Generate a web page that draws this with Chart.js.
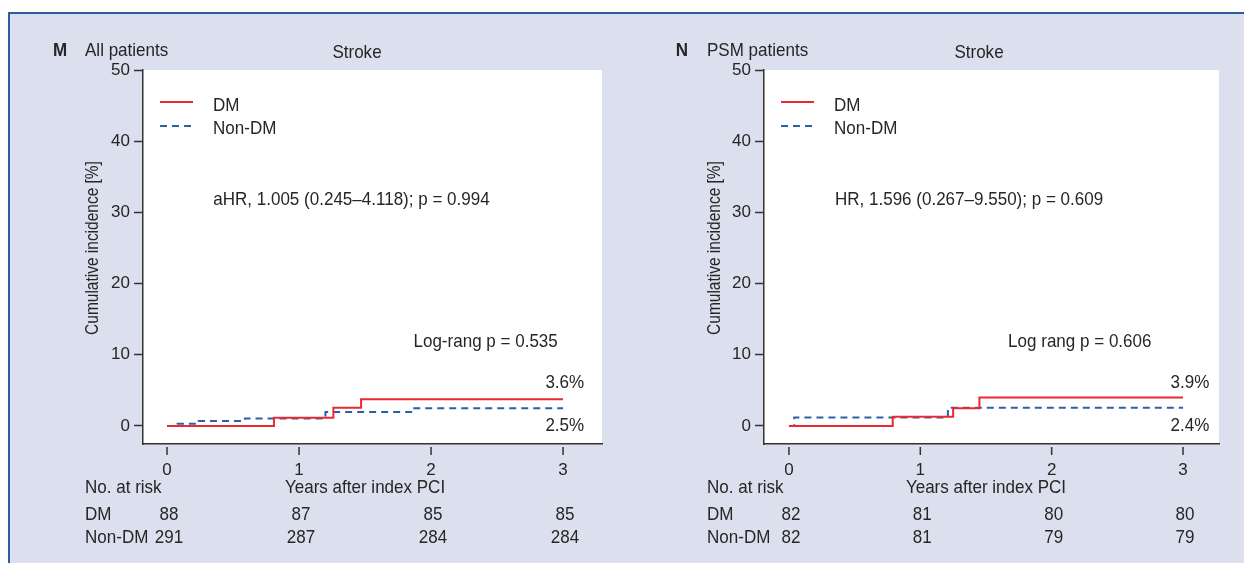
<!DOCTYPE html>
<html>
<head>
<meta charset="utf-8">
<script src="https://cdn.jsdelivr.net/npm/chart.js@4.4.1/dist/chart.umd.min.js"></script>
<style>
  body { margin: 0; width: 1244px; height: 563px; background: #fff; overflow: hidden; position: relative; }
  #frame { position: absolute; left: 8px; top: 12px; width: 1236px; height: 551px; background: #dcdfed;
           border-top: 2px solid #2e5d9c; border-left: 2px solid #2e5d9c; box-sizing: border-box; }
  canvas { position: absolute; top: 0; }
</style>
</head>
<body>
<div id="frame"></div>
<canvas id="chartM" width="622" height="563" style="left:0"></canvas>
<canvas id="chartN" width="622" height="563" style="left:622px"></canvas>
<script>
// shared axes
const years = [0, 1, 2, 3];
const yTicks = [0, 10, 20, 30, 40, 50];
const groups = ['DM', 'Non-DM'];

// Panel M - all patients
const mDmTime = [0, 0.81, 1.26, 1.47, 3];
const mDmInc = [0, 1.15, 2.55, 3.75, 3.75];
const mNonTime = [0, 0.08, 0.24, 0.59, 1.2, 1.86, 3];
const mNonInc = [0, 0.3, 0.7, 1.05, 1.95, 2.5, 2.5];
const mRiskDm = [88, 87, 85, 85];
const mRiskNon = [291, 287, 284, 284];

// Panel N - PSM patients
const nDmTime = [0, 0.79, 1.25, 1.45, 3];
const nDmInc = [0, 1.3, 2.5, 4.0, 4.0];
const nNonTime = [0, 0.04, 1.21, 3];
const nNonInc = [0, 1.2, 2.55, 2.55];
const nRiskDm = [82, 81, 80, 80];
const nRiskNon = [82, 81, 79, 79];

const FONT = '"Liberation Sans", Arimo, Arial, sans-serif';
const SQ = 0.92; // squeeze to look like a condensed face
const TXT = '#262626';
const RED = '#ea2a30';
const BLUE = '#2a61a6';

function pts(t, v) {
  return t.map((x, i) => ({ x: x, y: v[i] }));
}

function say(ctx, s, x, y, align, sq) {
  ctx.save();
  ctx.translate(x, y);
  ctx.scale(sq || SQ, 1);
  ctx.textAlign = align;
  ctx.fillText(s, 0, 0);
  ctx.restore();
}

// draws titles, legend, notes, risk table
const decor = {
  id: 'decor',
  beforeDraw(chart) {
    const { ctx, chartArea: a } = chart;
    ctx.save();
    ctx.fillStyle = '#fff';
    ctx.fillRect(a.left, a.top, a.right - a.left, a.bottom - a.top);
    ctx.restore();
  },
  afterDraw(chart, args, o) {
    const { ctx, chartArea: a } = chart;
    const sx = chart.scales.x, sy = chart.scales.y;
    ctx.save();
    ctx.fillStyle = TXT;
    ctx.textBaseline = 'middle';

    // header
    ctx.font = 'bold 18.5px ' + FONT;
    say(ctx, o.letter, 60, 51, 'center');
    ctx.font = '18.5px ' + FONT;
    say(ctx, o.subtitle, 85, 51, 'left');
    say(ctx, 'Stroke', 357, 53, 'center');

    // y title
    ctx.save();
    ctx.translate(93, (sy.getPixelForValue(0) + sy.getPixelForValue(50)) / 2);
    ctx.rotate(-Math.PI / 2);
    ctx.font = '18px ' + FONT;
    say(ctx, 'Cumulative incidence [%]', 0, 0, 'center', 0.86);
    ctx.restore();
    ctx.font = '18.5px ' + FONT;

    // detached x ticks
    ctx.strokeStyle = '#333';
    ctx.lineWidth = 1.5;
    years.forEach(v => {
      const x = sx.getPixelForValue(v);
      ctx.beginPath();
      ctx.moveTo(x, a.bottom + 3);
      ctx.lineTo(x, a.bottom + 11);
      ctx.stroke();
    });

    // legend
    const lx = a.left + 17;
    ctx.lineWidth = 1.8;
    ctx.strokeStyle = RED;
    ctx.beginPath(); ctx.moveTo(lx, 102); ctx.lineTo(lx + 33, 102); ctx.stroke();
    ctx.strokeStyle = BLUE;
    ctx.setLineDash([7, 5]);
    ctx.beginPath(); ctx.moveTo(lx, 126); ctx.lineTo(lx + 33, 126); ctx.stroke();
    ctx.setLineDash([]);
    say(ctx, groups[0], lx + 53, 106, 'left');
    say(ctx, groups[1], lx + 53, 129, 'left');

    // notes
    o.notes.forEach(n => {
      say(ctx, n.text, sx.getPixelForValue(n.x), sy.getPixelForValue(n.y), n.align);
    });

    // risk table
    say(ctx, 'No. at risk', 85, 488, 'left');
    say(ctx, groups[0], 85, 515, 'left');
    say(ctx, groups[1], 85, 538, 'left');
    say(ctx, 'Years after index PCI', sx.getPixelForValue(1.5), 488, 'center');
    years.forEach((v, i) => {
      const x = sx.getPixelForValue(v) + 2;
      say(ctx, String(o.riskDm[i]), x, 515, 'center');
      say(ctx, String(o.riskNon[i]), x, 538, 'center');
    });
    ctx.restore();
  }
};

function makeChart(id, dm, non, opts) {
  return new Chart(document.getElementById(id), {
    type: 'line',
    data: {
      datasets: [{
        label: groups[0],
        data: dm,
        borderColor: RED,
        borderWidth: 2,
        pointRadius: 0,
        stepped: true,
        fill: false
      }, {
        label: groups[1],
        data: non,
        borderColor: BLUE,
        borderWidth: 2,
        borderDash: [7, 5],
        pointRadius: 0,
        stepped: true,
        fill: false
      }]
    },
    options: {
      responsive: false,
      animation: false,
      layout: { padding: { top: 70, right: opts.padRight, left: 0, bottom: 0 } },
      plugins: {
        legend: { display: false },
        tooltip: { enabled: false },
        decor: opts
      },
      scales: {
        x: {
          type: 'linear',
          min: opts.xMin,
          max: opts.xMax,
          afterBuildTicks: s => { s.ticks = years.map(v => ({ value: v })); },
          afterFit: s => { s.height = 119; },
          grid: { drawOnChartArea: false, tickLength: 10, tickColor: 'transparent' },
          border: { color: '#333', width: 1.5 },
          ticks: { color: TXT, font: { family: FONT, size: 17 }, padding: 6, maxRotation: 0, autoSkip: false }
        },
        y: {
          min: -2.53,
          max: 50,
          afterBuildTicks: s => { s.ticks = yTicks.map(v => ({ value: v })); },
          afterFit: s => { s.width = opts.yWidth; },
          grid: { drawOnChartArea: false, tickLength: 9, tickColor: '#333', tickWidth: 1.5 },
          border: { color: '#333', width: 1.5 },
          ticks: { color: TXT, font: { family: FONT, size: 17 }, padding: 4 }
        }
      }
    },
    plugins: [decor]
  });
}

makeChart('chartM', pts(mDmTime, mDmInc), pts(mNonTime, mNonInc), {
  letter: 'M',
  subtitle: 'All patients',
  riskDm: mRiskDm,
  riskNon: mRiskNon,
  padRight: 20,
  yWidth: 143,
  xMin: -0.182,
  xMax: 3.295,
  notes: [
    { text: 'aHR, 1.005 (0.245\u20134.118); p = 0.994', x: 0.35, y: 31.7, align: 'left' },
    { text: 'Log-rang p = 0.535', x: 2.96, y: 11.8, align: 'right' },
    { text: '3.6%', x: 3.16, y: 6.0, align: 'right' },
    { text: '2.5%', x: 3.16, y: 0, align: 'right' }
  ]
});

makeChart('chartN', pts(nDmTime, nDmInc), pts(nNonTime, nNonInc), {
  letter: 'N',
  subtitle: 'PSM patients',
  riskDm: nRiskDm,
  riskNon: nRiskNon,
  padRight: 25,
  yWidth: 142,
  xMin: -0.19,
  xMax: 3.274,
  notes: [
    { text: 'HR, 1.596 (0.267\u20139.550); p = 0.609', x: 0.35, y: 31.7, align: 'left' },
    { text: 'Log rang p = 0.606', x: 2.76, y: 11.8, align: 'right' },
    { text: '3.9%', x: 3.2, y: 6.0, align: 'right' },
    { text: '2.4%', x: 3.2, y: 0, align: 'right' }
  ]
});
</script>
</body>
</html>
